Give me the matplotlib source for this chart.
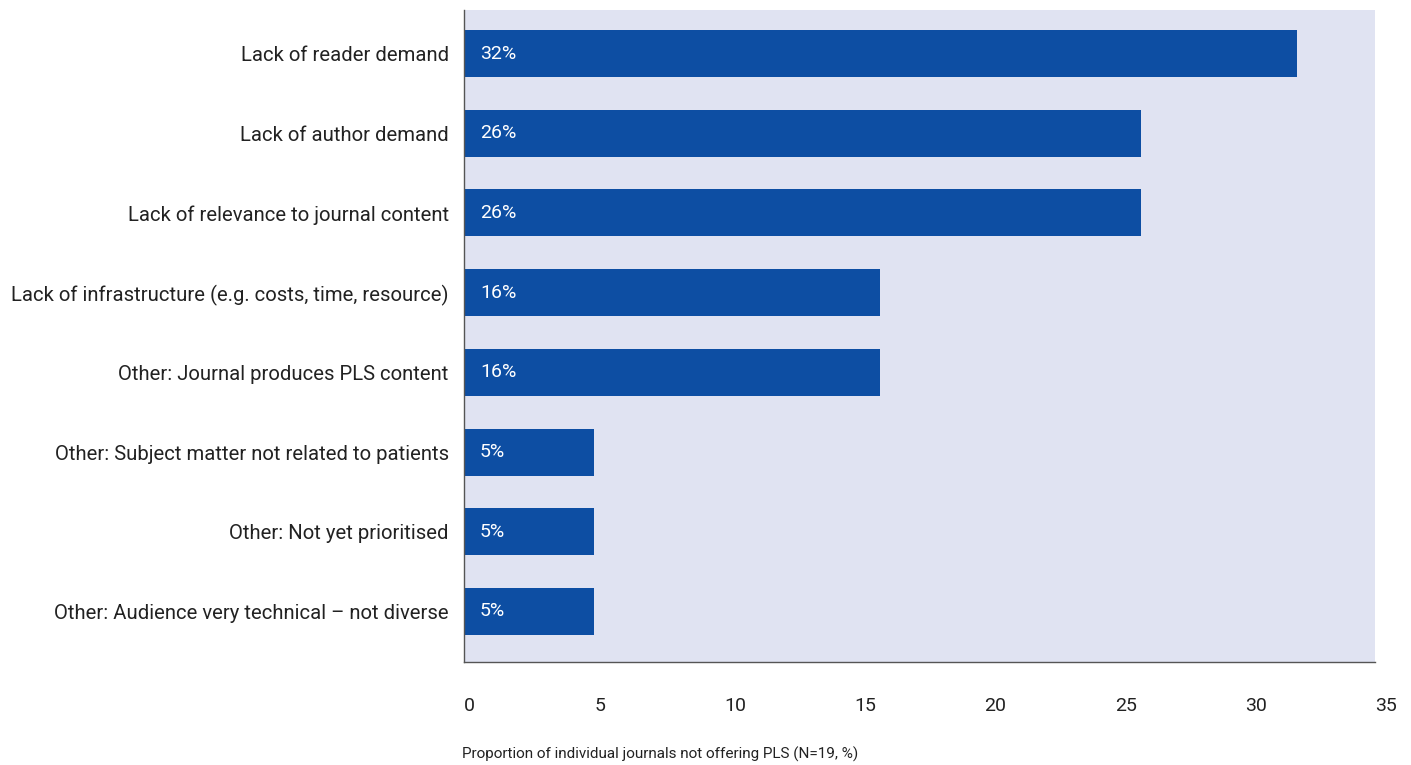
import matplotlib
matplotlib.use("Agg")
import matplotlib.pyplot as plt
from matplotlib.transforms import offset_copy

categories = [
    "Lack of reader demand",
    "Lack of author demand",
    "Lack of relevance to journal content",
    "Lack of infrastructure (e.g. costs, time, resource)",
    "Other: Journal produces PLS content",
    "Other: Subject matter not related to patients",
    "Other: Not yet prioritised",
    "Other: Audience very technical \u2013 not diverse",
]
values = [32, 26, 26, 16, 16, 5, 5, 5]
xticks = [0, 5, 10, 15, 20, 25, 30, 35]
xlabel = "Proportion of individual journals not offering PLS (N=19, %)"

plt.rcParams['font.family'] = ['Roboto', 'DejaVu Sans']

fig = plt.figure(figsize=(14.11, 7.65), dpi=100)
ax = fig.add_axes([464/1411, 1 - 662/765, (1375-464)/1411, (662-10)/765])
ax.set_facecolor("#e0e3f2")

ypos = list(range(len(categories)))
ax.barh(ypos, values, height=0.59, color="#0d4ea3")
ax.set_xlim(0, 35)
ax.set_ylim(7.634, -0.546)
ax.set_yticks(ypos)
ax.set_yticklabels(categories, fontsize=14.6, color="#222222")
ax.set_xticks(xticks)
ax.set_xticklabels([str(t) for t in xticks], fontsize=14, color="#222222", ha="left")
ax.tick_params(axis="both", length=0)
ax.tick_params(axis="y", pad=11)
ax.tick_params(axis="x", pad=25)

for s in ["top", "right"]:
    ax.spines[s].set_visible(False)
for s in ["left", "bottom"]:
    ax.spines[s].set_color("#555555")
    ax.spines[s].set_linewidth(1.0)

for y, v in zip(ypos, values):
    ax.text(0, y, f"{v}%", transform=offset_copy(ax.transData, fig=fig, x=16, y=0, units="dots"),
            color="white", fontsize=14, va="center", ha="left")

fig.text(462/1411, 1 - 754/765, xlabel, fontsize=11, color="#222222", ha="left", va="center")

fig.savefig("out.png", dpi=100)
